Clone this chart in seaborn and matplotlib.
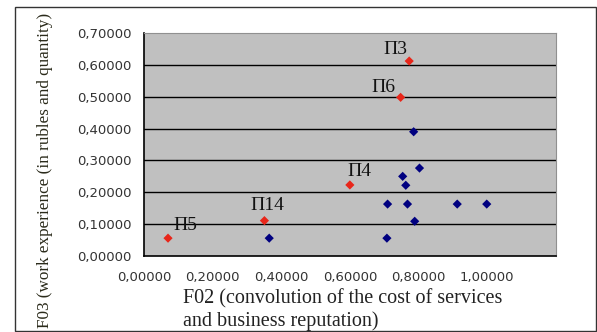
import numpy as np
import pandas as pd
import matplotlib
matplotlib.use("Agg")
import matplotlib.pyplot as plt
import seaborn as sns
from matplotlib.patches import Rectangle

# === DATA ===================================================================

# highlighted (red) partners with labels
red_labels = ["П3", "П6", "П4", "П14", "П5"]
red_x = [0.773, 0.748, 0.600, 0.351, 0.070]
red_y = [0.612, 0.498, 0.223, 0.111, 0.056]

# other (blue) partners
blue_x = [0.365, 0.708, 0.786, 0.803, 0.754, 0.763, 0.710, 0.768, 0.913, 0.999, 0.789]
blue_y = [0.056, 0.056, 0.390, 0.276, 0.250, 0.222, 0.163, 0.163, 0.163, 0.163, 0.109]

x_ticks = [0.0, 0.2, 0.4, 0.6, 0.8, 1.0]
y_ticks = [0.0, 0.1, 0.2, 0.3, 0.4, 0.5, 0.6, 0.7]

x_label = "F02 (convolution of the cost of services\nand business reputation)"
y_label = "F03 (work experience (in rubles and quantity)"

# label offsets in pixels (dx, dy) relative to the point
label_offsets = {"П3": (-14, 12), "П6": (-17, 10), "П4": (10, 13),
                 "П14": (3, 15), "П5": (17, 13)}

# === PLOT ===================================================================

sns.set_style("white")
plt.rcParams["font.family"] = ["DejaVu Sans"]

df = pd.DataFrame({
    "x": red_x + blue_x,
    "y": red_y + blue_y,
    "group": ["red"] * len(red_x) + ["blue"] * len(blue_x),
})

fig = plt.figure(figsize=(5.97, 3.32), dpi=100)
fig.patch.set_facecolor("white")
ax = fig.add_axes([144 / 597, 76 / 332, 411.7 / 597, 223 / 332])
ax.set_facecolor("#C0C0C0")

# horizontal gridlines
for yv in y_ticks[1:-1]:
    ax.axhline(yv, color="black", lw=1.0, zorder=1)

sns.scatterplot(data=df, x="x", y="y", hue="group",
                palette={"red": "#E8261A", "blue": "#000080"},
                marker="D", s=22, edgecolor="none", legend=False,
                ax=ax, zorder=3)

for lab, px, py in zip(red_labels, red_x, red_y):
    dx, dy = label_offsets[lab]
    ax.annotate(lab, (px, py), xytext=(dx * 0.72, dy * 0.72),
                textcoords="offset points", ha="center", va="center",
                fontsize=14, family="Liberation Serif", color="#111111")

ax.set_xlim(0, 1.2)
ax.set_ylim(0, 0.7)
ax.set_xticks(x_ticks)
ax.set_yticks(y_ticks)
ax.set_xticklabels([f"{v:.5f}".replace(".", ",") for v in x_ticks])
ax.set_yticklabels([f"{v:.5f}".replace(".", ",") for v in y_ticks])
ax.set_xlabel("")
ax.set_ylabel("")
ax.tick_params(axis="both", direction="out", length=4, width=1,
               colors="black", labelsize=9.5, labelcolor="#333333")
ax.tick_params(axis="x", pad=7)
ax.tick_params(axis="y", pad=5)

for side in ["left", "bottom"]:
    ax.spines[side].set_color("black")
    ax.spines[side].set_linewidth(1.2)
for side in ["top", "right"]:
    ax.spines[side].set_color("#909090")
    ax.spines[side].set_linewidth(0.8)

fig.text(183 / 597, 1 - 310 / 332, x_label, ha="left", va="center",
         fontsize=14.5, family="Liberation Serif", color="#222222",
         linespacing=1.2)
fig.text(45 / 597, 1 - 170 / 332, y_label, rotation=90, ha="center",
         va="center", fontsize=12.3, family="Liberation Serif", color="#2a2a1a")

# outer frame
fig.patches.append(Rectangle((15 / 597, 1 / 332), 581 / 597, 324 / 332,
                             transform=fig.transFigure, fill=False,
                             edgecolor="#333333", lw=1.0))

fig.savefig("out.png", dpi=100)
